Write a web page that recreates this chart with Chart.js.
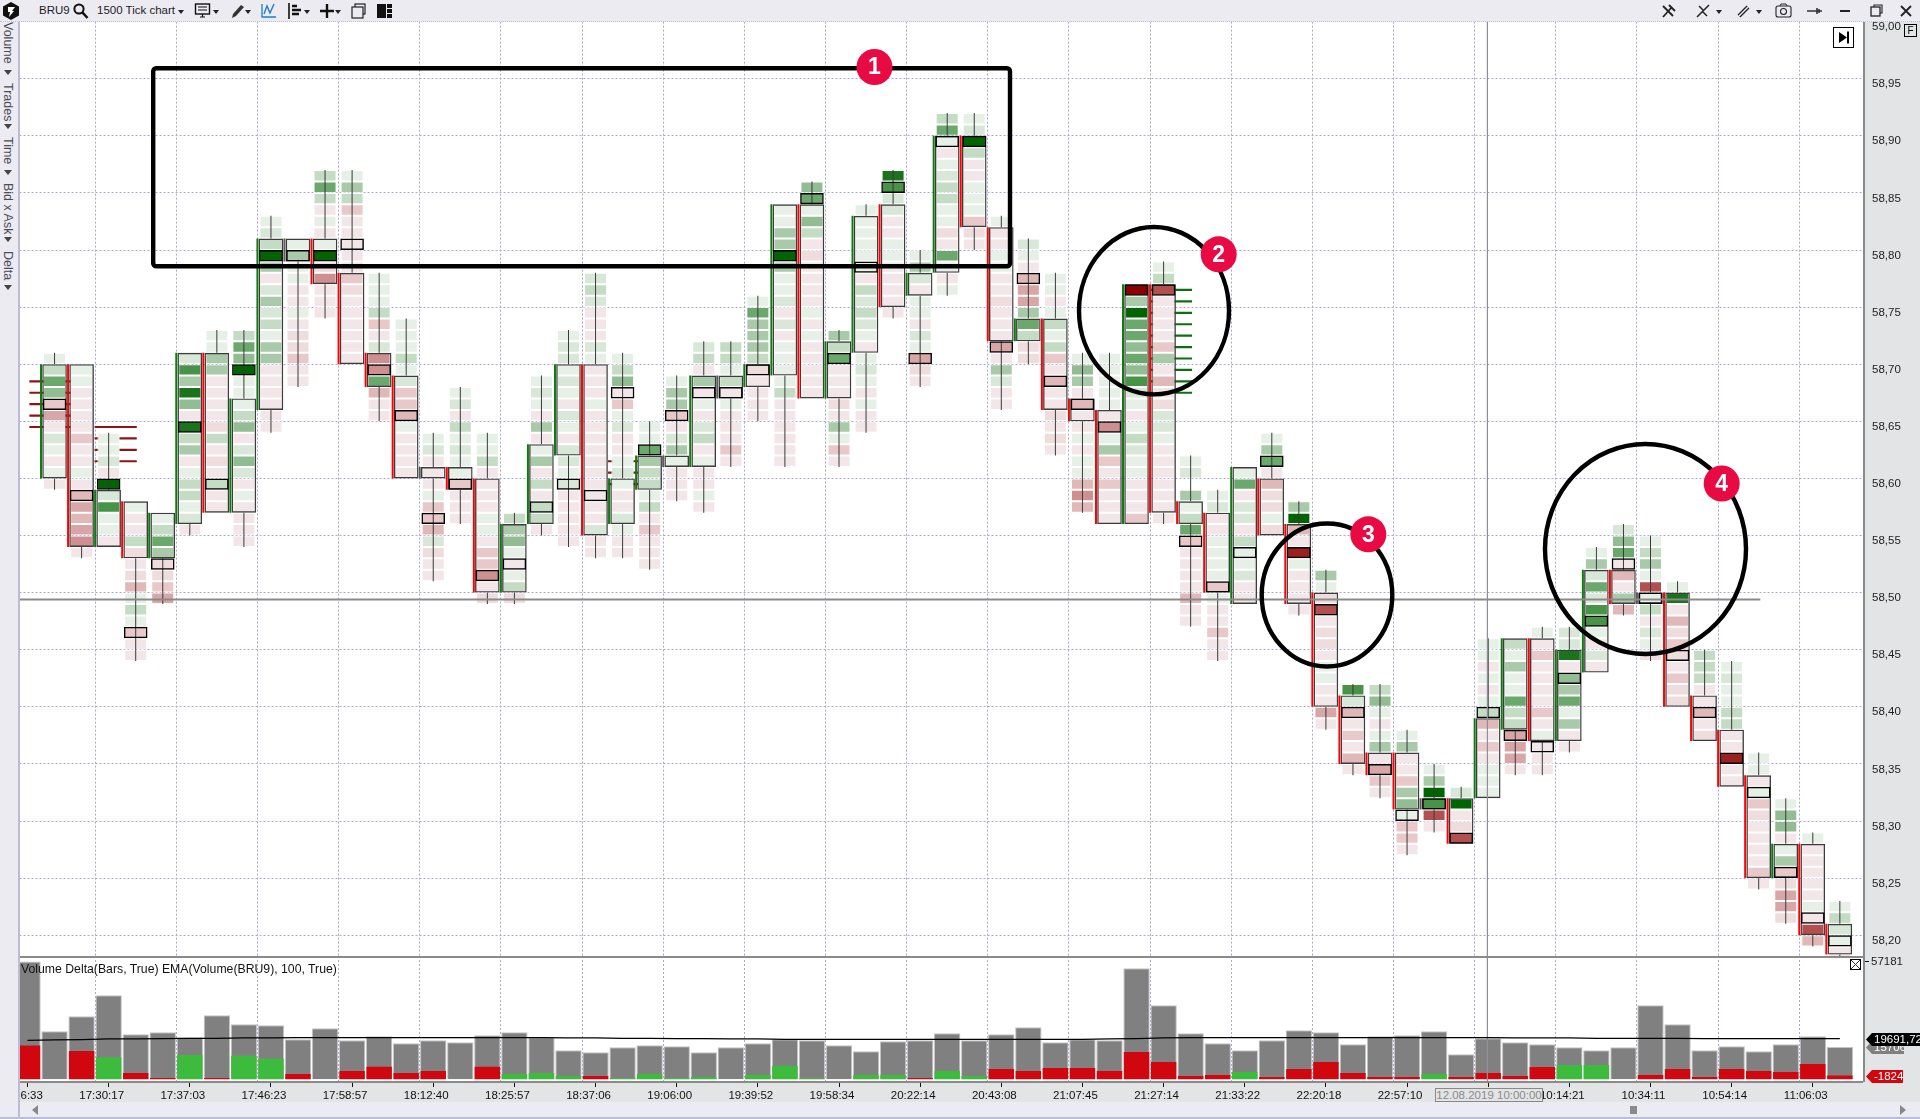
<!DOCTYPE html>
<html><head><meta charset="utf-8"><title>BRU9 1500 Tick chart</title>
<style>
html,body{margin:0;padding:0;width:1920px;height:1119px;overflow:hidden;background:#ecebf2;font-family:"Liberation Sans",Arial,sans-serif;color:#222}
.a{position:absolute}
canvas{position:absolute;left:0}
#side span{position:absolute;left:1px;writing-mode:vertical-rl;font-size:12.5px;line-height:14px;color:#4c4c58;white-space:nowrap}
#side i{position:absolute;left:4px;width:0;height:0;border-left:4px solid transparent;border-right:4px solid transparent;border-top:5px solid #444}
.tb{position:absolute;top:3px;font-size:11.5px;line-height:15px;color:#1c1c24;white-space:nowrap}
.dd{position:absolute;top:10px;width:0;height:0;border-left:3.5px solid transparent;border-right:3.5px solid transparent;border-top:4px solid #222}
svg.ic{position:absolute;top:2px;width:18px;height:18px;overflow:visible}
.flag{position:absolute;font-size:11.5px;line-height:12px;padding-left:8px;box-sizing:border-box;clip-path:polygon(6px 0,100% 0,100% 100%,6px 100%,0 50%)}
</style></head><body>
<script src="https://cdn.jsdelivr.net/npm/chart.js@4"></script>

<div class="a" style="left:20px;top:22px;width:1843px;height:1060px;background:#fff"></div>
<div class="a" style="left:1863px;top:22px;width:57px;height:1080px;background:#e3e4e6"></div>
<div class="a" style="left:20px;top:1082px;width:1843px;height:20px;background:#e3e4e6"></div>

<canvas id="main" width="1920" height="956" style="top:0"></canvas>
<canvas id="lower" width="1920" height="146" style="top:956px"></canvas>

<div class="a" style="left:20px;top:956px;width:1843px;height:2px;background:#8a8a8a"></div>
<div class="a" style="left:20px;top:1081px;width:1843px;height:2px;background:#8a8a8a"></div>
<div class="a" style="left:1863px;top:22px;width:1.5px;height:1060px;background:#8a8a8a"></div>

<!-- side strip -->
<div class="a" id="side" style="left:0;top:22px;width:18px;height:1097px;background:#ecebf2;border-right:2px solid #bcbcd8;box-sizing:content-box">
 <span style="top:0">Volume</span><i style="top:48px"></i>
 <span style="top:61px">Trades</span><i style="top:102px"></i>
 <span style="top:115px">Time</span><i style="top:148px"></i>
 <span style="top:161px">Bid x Ask</span><i style="top:215px"></i>
 <span style="top:229px">Delta</span><i style="top:263px"></i>
</div>

<!-- toolbar -->
<div class="a" style="left:0;top:0;width:1920px;height:21px;background:#ecebf2;border-bottom:1px dotted #bcbcd8"></div>
<svg class="ic" style="left:2px" viewBox="0 0 18 18"><polygon points="9,0 17,4.5 17,13.5 9,18 1,13.5 1,4.5" fill="#111"/><path d="M6 5h7l-3 4h2l-5 6 1-5H6z" fill="#fff"/></svg>
<div class="tb" style="left:39px">BRU9</div>
<svg class="ic" style="left:72px" viewBox="0 0 18 18"><circle cx="7" cy="7" r="4.6" fill="none" stroke="#111" stroke-width="2"/><path d="M10.5 10.5L15.5 16" stroke="#111" stroke-width="2.6"/></svg>
<div class="tb" style="left:97px">1500 Tick chart</div><b class="dd" style="left:178px"></b>
<svg class="ic" style="left:194px" viewBox="0 0 18 18"><rect x="1.5" y="2" width="14" height="10" fill="none" stroke="#111" stroke-width="1.4"/><path d="M4 5h9M4 8h9M6 15h5M8.500 12v3" stroke="#111" stroke-width="1.2"/></svg><b class="dd" style="left:213px"></b>
<svg class="ic" style="left:229px" viewBox="0 0 18 18"><path d="M3 16l1-4L12 3l3 2-8 9z" fill="#333"/></svg><b class="dd" style="left:245px"></b>
<svg class="ic" style="left:260px" viewBox="0 0 18 18"><path d="M2 2v13h14" fill="none" stroke="#1b7fd0" stroke-width="1.3"/><path d="M4 12l3-8 3 7 4-9" fill="none" stroke="#1b7fd0" stroke-width="1.4"/></svg>
<svg class="ic" style="left:287px" viewBox="0 0 18 18"><path d="M2 1v16" stroke="#111" stroke-width="1.6"/><path d="M5 4h5M5 8h9M5 12h7" stroke="#111" stroke-width="2.4"/></svg><b class="dd" style="left:304px"></b>
<svg class="ic" style="left:318px" viewBox="0 0 18 18"><path d="M9 2v14M2 9h14" stroke="#111" stroke-width="2.4"/></svg><b class="dd" style="left:335px"></b>
<svg class="ic" style="left:350px" viewBox="0 0 18 18"><rect x="5" y="2" width="10" height="10" fill="none" stroke="#222" stroke-width="1.2"/><rect x="2" y="5" width="11" height="11" fill="#ecebf2" stroke="#222" stroke-width="1.2"/></svg>
<svg class="ic" style="left:376px" viewBox="0 0 18 18"><rect x="1" y="2" width="9" height="14" fill="#111"/><rect x="11" y="2" width="5" height="4" fill="#111"/><rect x="11" y="7" width="5" height="4" fill="#111"/><rect x="11" y="12" width="5" height="4" fill="#111"/></svg>
<svg class="ic" style="left:1660px" viewBox="0 0 18 18"><path d="M3 15L12 5M9 3l6 6M3 4l10 10" stroke="#222" stroke-width="1.8"/></svg>
<svg class="ic" style="left:1694px" viewBox="0 0 18 18"><path d="M3 15L15 3M5 4l4 4M13 14l-4-4" stroke="#222" stroke-width="1.5"/></svg><b class="dd" style="left:1716px"></b>
<svg class="ic" style="left:1735px" viewBox="0 0 18 18"><path d="M4 14l9-9" stroke="#222" stroke-width="4"/><path d="M4 14l9-9" stroke="#ecebf2" stroke-width="1.4"/></svg><b class="dd" style="left:1756px"></b>
<svg class="ic" style="left:1775px" viewBox="0 0 18 18"><rect x="1" y="4" width="15" height="11" rx="2" fill="none" stroke="#222" stroke-width="1.1"/><circle cx="8.500" cy="9.500" r="3" fill="none" stroke="#222" stroke-width="1.1"/><path d="M5 4l1-2h5l1 2" fill="none" stroke="#222"/></svg>
<svg class="ic" style="left:1806px" viewBox="0 0 18 18"><path d="M1 9h15M11 6v6M13 7v4" stroke="#333" stroke-width="1.6"/></svg>
<div class="a" style="left:1840px;top:10px;width:10px;height:2px;background:#222"></div>
<svg class="ic" style="left:1869px" viewBox="0 0 18 18"><rect x="2" y="5" width="9" height="9" fill="none" stroke="#222" stroke-width="1.3"/><path d="M5 5V3h8v8h-2" fill="none" stroke="#222" stroke-width="1.1"/></svg>
<svg class="ic" style="left:1897px" viewBox="0 0 18 18"><path d="M4 4l10 10M14 4L4 14" stroke="#222" stroke-width="1.8"/></svg>

<!-- chart corner widgets -->
<div class="a" style="left:1833px;top:27px;width:19px;height:19px;border:1px solid #000;background:#fff"><svg width="19" height="19" viewBox="0 0 19 19"><polygon points="5,4 13,9.500 5,15" fill="#000"/><rect x="13" y="3.500" width="2" height="12" fill="#000"/></svg></div>
<div class="a" style="left:1904px;top:24px;width:11px;height:11px;border:1px solid #000;font-size:10px;line-height:11px;text-align:center;color:#000">F</div>
<div class="a" style="left:1850px;top:959px;width:9px;height:9px;border:1px solid #000;background:#fff"><svg width="9" height="9" style="display:block"><path d="M0 0L9 9M9 0L0 9" stroke="#333" stroke-width="1"/></svg></div>

<div class="a" style="left:21px;top:962px;font-size:12.25px;line-height:14px;color:#111;white-space:nowrap">Volume Delta(Bars, True) EMA(Volume(BRU9), 100, True)</div>

<!-- value flags -->
<div class="flag" style="left:1866px;top:1041px;width:38px;height:13px;background:#808080;color:#fff">15706</div>
<div class="flag" style="left:1866px;top:1033px;width:54px;height:13px;background:#000;color:#fff">19691,72</div>
<div class="flag" style="left:1866px;top:1070px;width:37px;height:13px;background:#d0070e;color:#fff">-1824</div>

<!-- crosshair time box -->
<div class="a" style="left:1435px;top:1088px;width:106px;height:12px;border:1px solid #888;background:#e3e4e6;color:#8a8a8a;font-size:11.5px;line-height:12px;text-align:center;white-space:nowrap">12.08.2019 10:00:00</div>

<!-- scroll bar -->
<div class="a" style="left:20px;top:1102px;width:1900px;height:15px;background:#ecebf2"></div>
<div class="a" style="left:0;top:1117px;width:1920px;height:2px;background:#bcbcd8"></div>
<div class="a" style="left:32px;top:1105px;width:0;height:0;border-top:5px solid transparent;border-bottom:5px solid transparent;border-right:6px solid #888"></div>
<div class="a" style="left:1900px;top:1105px;width:0;height:0;border-top:5px solid transparent;border-bottom:5px solid transparent;border-left:6px solid #888"></div>
<div class="a" style="left:1630px;top:1106px;width:7px;height:8px;background:#8a8a8a"></div>

<script>
// ---------- footprint columns (first column sits at slot 1 of the time axis) ----------
const firstCol = 1;
// price of the upper edge of each column's top cell
const cellTops = [58.71,58.70,58.64,58.58,58.57,58.71,58.73,58.73,58.83,58.81,58.87,58.87,58.78,58.74,58.64,58.68,58.64,58.57,58.69,58.73,
  58.78,58.71,58.65,58.69,58.72,58.72,58.76,58.84,58.86,58.73,58.84,58.87,58.80,58.92,58.92,58.83,58.81,58.78,58.71,58.71,
  58.77,58.79,58.62,58.59,58.61,58.64,58.58,58.52,58.42,58.42,58.38,58.35,58.33,58.46,58.46,58.47,58.47,58.54,58.56,58.55,
  58.51,58.45,58.44,58.36,58.32,58.29,58.23];
// one character per price level, top to bottom: 1-9 buying weight, a-i selling weight, . empty
const cellLevels = ["1365cea21a1a","11aaaacaa1adedefa","112a92711a","1aa3babd131caa","1364bbce","27485a834a13312a","1144aaaab3aba3aa",
  "365911135a252a1aaaa","12394a2423144aaaaaa","1411aa1abbcaa","363a1a19bfaaa","143caaaaacbaaaaaa","1113ca2ff6daa","111312ccd1aaaa",
  "12aaa1ccd2baa","12a31211caaa","113aaaa11accfab","3451a13b","121a4a14a3a33a","122121a21a2212aaaaa","232aaa21aaa1aaaaaaaaaa2aa",
  "135ac12aa121aa21aa","11643313acaaa","144ca241aaa","23a4a1a23a1aa1a","3313a1aaaca","164443baaaa","114494112a2a11113aaaaaa",
  "56153abaaaa1a1aaaaa","436aaaba41ca","111111a32321a121a1aa","8722aa11aaaaa","142a11a21eba","361a123311ba61a1","1293aa111cba",
  "1aa11aabaaaea42aa","21adee463bb","11a1313cadaababa","154adaa1a11dfd","11111af14cacaaa","i4966565721a13211aaac",
  "13gaaaac4adab221aaaaaaa","12.4136caaaadaa","12aa1111c1aacaa","16a22a3112aa","146adbb1b","49dah1aaaa","41bgabba11aaea","72dacada",
  "351a14aeca","14aac451cca","1497ga","29abg","11a1a13daca111","31411633eeea","1acaaaaca1aaa","228a54614aa","14262771a2a","256ada4d",
  "1341g13a21b","18adbcbacbb","333aadab","121133aahaa","11a1cbaaaaca","155a14cbeeb","1aaaaa1agd","1321a"];
const bodyTops = [58.70,58.70,58.59,58.58,58.57,58.71,58.71,58.67,58.81,58.81,58.81,58.78,58.71,58.69,58.61,58.61,58.60,58.56,58.63,58.70,
  58.70,58.60,58.62,58.62,58.69,58.69,58.70,58.84,58.84,58.72,58.83,58.84,58.78,58.90,58.90,58.82,58.74,58.74,58.67,58.66,
  58.77,58.77,58.58,58.57,58.61,58.60,58.56,58.50,58.41,58.36,58.36,58.32,58.32,58.39,58.46,58.46,58.45,58.52,58.52,58.50,
  58.50,58.41,58.38,58.34,58.28,58.28,58.21];
const bodyBottoms = [58.60,58.54,58.54,58.53,58.53,58.56,58.57,58.57,58.66,58.79,58.77,58.70,58.68,58.60,58.60,58.59,58.50,58.50,58.56,58.62,
  58.55,58.56,58.59,58.61,58.61,58.67,58.68,58.69,58.67,58.67,58.71,58.75,58.76,58.78,58.82,58.72,58.72,58.66,58.65,58.56,
  58.56,58.57,58.56,58.50,58.49,58.55,58.49,58.40,58.35,58.34,58.31,58.31,58.28,58.32,58.38,58.37,58.37,58.43,58.49,58.49,
  58.40,58.37,58.33,58.25,58.25,58.20,58.183];
// price of the outlined (maximum volume) cell in each column
const pocPrices = [58.67,58.59,58.60,58.47,58.53,58.65,58.60,58.70,58.80,58.80,58.80,58.81,58.70,58.66,58.57,58.60,58.52,58.53,58.58,58.60,
  58.59,58.68,58.63,58.66,58.68,58.68,58.70,58.80,58.85,58.71,58.79,58.86,58.71,58.90,58.90,58.72,58.78,58.69,58.67,58.65,
  58.77,58.77,58.55,58.51,58.54,58.62,58.54,58.49,58.40,58.35,58.31,58.32,58.29,58.40,58.38,58.37,58.43,58.48,58.53,58.50,
  58.45,58.40,58.36,58.33,58.26,58.22,58.20];
const columnSides = ["up","down","up","down","up","up","down","up","up","flat","down","down","down","down","flat","down","down","up","up","up",
  "down","up","up","flat","up","flat","up","up","down","up","up","down","up","up","down","down","up","down","down","down",
  "up","down","down","down","up","down","down","down","down","down","down","flat","down","up","up","down","up","up","down","flat",
  "down","down","down","down","up","down","down"];

// ---------- dashed grid / price axis ----------
const priceTicks = [59.00,58.95,58.90,58.85,58.80,58.75,58.70,58.65,58.60,58.55,58.50,58.45,58.40,58.35,58.30,58.25,58.20];
const gridSlots = [2.5,5.5,8.5,11.5,14.5,17.5,20.5,23.5,26.5,29.5,32.5,35.5,38.5,41.5,44.5,47.5,50.5,53.5,56.5,59.5,62.5,65.5];

// ---------- imbalance level markers: [from slot, to slot, price of the level] ----------
const sellLevels = [[0.07,1.6,58.69],[0.07,1.6,58.68],[0.07,1.6,58.67],[0.07,1.6,58.66],[0.07,1.6,58.65],
  [2.48,4.04,58.65],[2.48,4.04,58.64],[2.48,4.04,58.63],[2.48,4.04,58.62],
  [21.46,22.57,58.62],[21.46,22.57,58.61],[21.46,22.57,58.60]];
const buyLevels = [[41.5,43.05,58.77],[41.5,43.05,58.76],[41.5,43.05,58.75],[41.5,43.05,58.74],[41.5,43.05,58.73],
  [41.5,43.05,58.72],[41.5,43.05,58.71],[41.5,43.05,58.70],[41.5,43.05,58.69],[41.5,43.05,58.68]];

// ---------- crosshair ----------
const crossPrice = 58.494, crossEndSlot = 64.06, crossSlot = 53.97;

// ---------- lower pane, one entry per slot 0..67 ----------
const volumes = [57181,23285,30561,40748,21830,22800,20374,31046,26680,26195,19404,24740,18919,20859,17464,18919,17949,21344,22800,20374,
  14068,13098,15523,16493,16008,13098,15523,17464,19404,18919,16493,13583,18434,18919,22315,18919,21830,25225,17949,19404,
  18919,53846,35897,22315,17464,14068,18919,23770,22800,16979,20859,21344,23285,12128,19889,17949,16979,15523,14068,15523,
  35897,26680,14068,16008,13583,16979,20859,15706];
const deltas = [-16332,0,-13745,10672,-3072,-647,11804,-647,11481,10025,-2587,0,-4043,-6145,-3072,-4043,0,-6145,2587,3072,
  1617,-1617,647,2587,647,1132,0,2102,6630,485,0,2102,2102,-647,4043,1617,-5013,-4043,-5498,-5498,
  -4043,-13259,-8408,-1617,-2102,3557,-1132,-5013,-8408,-3072,-1132,-1132,2587,-1132,-3072,-1617,-5983,6953,6953,0,
  -2102,-5013,-1132,-5013,-4043,-3557,-7438,-1824];
const emaValues = [18919,19081,19242,19566,19566,19728,19889,19889,20051,20051,20213,20213,20213,20213,20213,20213,20213,20213,20213,20213,
  20051,20051,19889,19889,19728,19728,19566,19566,19404,19404,19404,19404,19404,19404,19404,19404,19404,19404,19404,19404,
  19566,19728,20051,20213,20213,20213,20213,20213,20213,20213,20213,20213,20213,20213,20213,20051,20051,20051,19889,19889,
  19889,19889,19728,19728,19728,19728,19728,19691.72];
const volumeTicks = [57181];
const timeSlots = [0,3,6,9,12,15,18,21,24,27,30,33,36,39,42,45,48,51,54,57,60,63,66];
const timeLabels = ["17:26:33","17:30:17","17:37:03","17:46:23","17:58:57","18:12:40","18:25:57","18:37:06","19:06:00","19:39:52","19:58:34",
  "20:22:14","20:43:08","21:07:45","21:27:14","21:33:22","22:20:18","22:57:10","","10:14:21","10:34:11","10:54:14","11:06:03"];

// ---------- styles ----------
const levelColors = {'1':'#e6f0e6','2':'#d8e7d8','3':'#c4dbc4','4':'#a8caa8','5':'#92bd92','6':'#6ba86b','7':'#479447','8':'#1b741b','9':'#006400',
  'a':'#f3e6e8','b':'#efdcdc','c':'#e8c8c8','d':'#e1b8b8','e':'#d8a6a6','f':'#cd8f8f','g':'#b25050','h':'#9c2020','i':'#8b0000'};
const sideColors = {up:'#0c7a0c',down:'#ff0000',flat:'#5a5a5a'};
const GRID = '#aaa8cc', PX_PER_SLOT = 27.05, LEFT = 19.5, SLOT0_PX = 27.5;
const slotMin = (LEFT - SLOT0_PX)/PX_PER_SLOT, slotMax = slotMin + (1863 - LEFT)/PX_PER_SLOT;
const TICK = 0.01;

// ---------- derived marks ----------
const cellData=[], bodyData=[], sideData=[], wickData=[], pocData=[];
cellLevels.forEach((levels,k)=>{
  const slot = firstCol+k, top = cellTops[k];
  [...levels].forEach((lv,r)=>{
    if(lv==='.') return;
    const p = +(top - r*TICK).toFixed(2);
    cellData.push({x:slot,y:[p-TICK,p],level:lv});
  });
  const low = top - levels.length*TICK;
  bodyData.push({x:slot,y:[bodyBottoms[k],bodyTops[k]]});
  sideData.push({x:slot-0.5,y:[bodyBottoms[k],bodyTops[k]],side:columnSides[k]});
  if(top>bodyTops[k]+1e-6) wickData.push({x:slot,y:[bodyTops[k],top]});
  if(low<bodyBottoms[k]-1e-6) wickData.push({x:slot,y:[low,bodyBottoms[k]]});
  pocData.push({x:slot,y:[pocPrices[k]-TICK,pocPrices[k]]});
});
const levelLine=(seg,color)=>({type:'line',order:9,data:[{x:seg[0],y:seg[2]-TICK/2},{x:seg[1],y:seg[2]-TICK/2}],
  borderColor:color,borderWidth:2.2,pointRadius:0,tension:0});
const barBase={grouped:false,borderSkipped:false,inflateAmount:0};

const zeroPad=s=>{s.paddingLeft=s.paddingRight=s.paddingTop=s.paddingBottom=0;};

// ---------- hand-drawn call-outs on the picture ----------
const callouts={id:'callouts',afterDraw(c){
  const x=c.ctx; x.save(); x.strokeStyle='#000'; x.lineWidth=4.4;
  x.beginPath(); x.roundRect(153.2,68.3,856.8,198,3); x.stroke();
  [[1154,310.7,75,83.7],[1327,595,65.3,71.5],[1645.5,549,100.5,105]].forEach(e=>{
    x.beginPath(); x.ellipse(e[0],e[1],e[2],e[3],0,0,Math.PI*2); x.stroke();});
  [[874.5,67,'1'],[1218.7,254.3,'2'],[1368.3,534.3,'3'],[1721.7,483.5,'4']].forEach(b=>{
    x.beginPath(); x.arc(b[0],b[1],18,0,Math.PI*2); x.fillStyle='#ea0a43'; x.fill();
    x.fillStyle='#fff'; x.font='bold 23px "Liberation Sans",Arial,sans-serif'; x.textAlign='center'; x.textBaseline='middle';
    x.fillText(b[2],b[0],b[1]+1);
  });
  x.restore();
}};

new Chart(document.getElementById('main'),{
  type:'bar',
  data:{datasets:[
    ...sellLevels.map(s=>levelLine(s,'#8c1414')),
    ...buyLevels.map(s=>levelLine(s,'#0c700c')),
    {...barBase,order:8,data:cellData,barThickness:23,backgroundColor:c=>levelColors[c.raw.level],borderColor:'rgba(255,255,255,.5)',borderWidth:1},
    {...barBase,order:7,data:sideData,barThickness:2,backgroundColor:c=>sideColors[c.raw.side],borderWidth:0},
    {...barBase,order:6,data:bodyData,barThickness:24.6,backgroundColor:'rgba(0,0,0,0)',borderColor:'#3c3c3c',borderWidth:1.4},
    {...barBase,order:5,data:wickData,barThickness:1,backgroundColor:'#3a3a3a',borderWidth:0},
    {...barBase,order:4,data:pocData,barThickness:23.6,backgroundColor:'rgba(0,0,0,0)',borderColor:'#000',borderWidth:1.5},
    {type:'line',order:3,data:[{x:slotMin,y:crossPrice},{x:crossEndSlot,y:crossPrice}],borderColor:'#8a8a8a',borderWidth:2,pointRadius:0},
    {type:'line',order:3,data:[{x:crossSlot,y:59},{x:crossSlot,y:58.18}],borderColor:'#8f8f9a',borderWidth:1.2,pointRadius:0}
  ]},
  options:{
    responsive:false,animation:false,devicePixelRatio:1,events:[],
    layout:{padding:{left:LEFT,right:0,top:21.6,bottom:0}},
    plugins:{legend:{display:false},tooltip:{enabled:false}},
    scales:{
      x:{type:'linear',offset:false,min:slotMin,max:slotMax,
        grid:{offset:false,color:GRID,lineWidth:1,drawTicks:false},border:{display:false,dash:[2,2]},
        ticks:{display:false},
        afterBuildTicks:s=>{s.ticks=gridSlots.map(v=>({value:v}));},
        afterFit:s=>{s.height=0;zeroPad(s);}},
      y:{type:'linear',position:'right',beginAtZero:false,min:59-(956-21.6)/1142,max:59,
        grid:{color:GRID,lineWidth:1,drawTicks:false},border:{display:false,dash:[2,2]},
        ticks:{padding:9,labelOffset:5.5,color:'#222',font:{family:'"Liberation Sans",Arial,sans-serif',size:11.5},autoSkip:false,
          callback:v=>v.toFixed(2).replace('.',',')},
        afterBuildTicks:s=>{s.ticks=priceTicks.map(v=>({value:v}));},
        afterFit:s=>{s.width=57;zeroPad(s);}}
    }
  },
  plugins:[callouts]
});

new Chart(document.getElementById('lower'),{
  type:'bar',
  data:{datasets:[
    {...barBase,order:3,data:volumes.map((v,i)=>({x:i,y:v})),barThickness:26.4,backgroundColor:'#808080',borderColor:'#c4c4c4',borderWidth:{top:1,left:1,right:1,bottom:0}},
    {...barBase,order:2,data:deltas.map((v,i)=>({x:i,y:Math.abs(v),sign:v})),barThickness:25.4,backgroundColor:c=>c.raw.sign<0?'#d0070e':'#3dbb3d',borderWidth:0},
    {type:'line',order:1,data:emaValues.map((v,i)=>({x:i,y:v})),borderColor:'#000',borderWidth:1.3,pointRadius:0,tension:0},
    {type:'line',order:1,data:[{x:crossSlot,y:59800},{x:crossSlot,y:-1310}],borderColor:'#8f8f9a',borderWidth:1.2,pointRadius:0}
  ]},
  options:{
    responsive:false,animation:false,devicePixelRatio:1,events:[],
    layout:{padding:{left:LEFT,right:0,top:0,bottom:0}},
    plugins:{legend:{display:false},tooltip:{enabled:false}},
    scales:{
      x:{type:'linear',position:'bottom',offset:false,min:slotMin,max:slotMax,
        grid:{offset:false,drawOnChartArea:false,drawTicks:true,tickLength:5,tickColor:'#111',tickWidth:1},border:{display:false},
        ticks:{autoSkip:false,maxRotation:0,minRotation:0,padding:2,labelOffset:-7,color:'#111',font:{family:'"Liberation Sans",Arial,sans-serif',size:11.5},
          callback:(v,i)=>timeLabels[i]},
        afterBuildTicks:s=>{s.ticks=timeSlots.map(v=>({value:v}));},
        afterFit:s=>{s.height=20;zeroPad(s);}},
      gridX:{axis:'x',type:'linear',position:'bottom',offset:false,min:slotMin,max:slotMax,
        grid:{offset:false,color:GRID,lineWidth:1,drawTicks:false},border:{display:false,dash:[2,2]},
        ticks:{display:false},
        afterBuildTicks:s=>{s.ticks=gridSlots.map(v=>({value:v}));},
        afterFit:s=>{s.height=0;zeroPad(s);}},
      y:{type:'linear',position:'right',beginAtZero:false,min:-1310,max:59800,
        grid:{drawOnChartArea:false,drawTicks:true,tickLength:6,tickColor:'#111'},border:{display:false},
        ticks:{padding:2,color:'#222',font:{family:'"Liberation Sans",Arial,sans-serif',size:11.5},autoSkip:false,callback:v=>String(v)},
        afterBuildTicks:s=>{s.ticks=volumeTicks.map(v=>({value:v}));},
        afterFit:s=>{s.width=57;zeroPad(s);}}
    }
  }
});
</script>
</body></html>
